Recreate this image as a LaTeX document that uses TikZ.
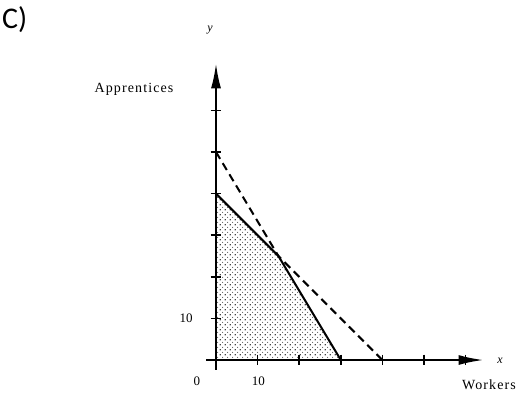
\documentclass[tikz,border=0pt]{standalone}
\usepackage{fontspec}
\setmainfont{Liberation Serif}
\newfontfamily\labelfont{Carlito}
\usetikzlibrary{patterns,arrows.meta}
\pgfdeclarepatternformonly{regiondots}{\pgfqpoint{0pt}{0pt}}{\pgfqpoint{5pt}{5pt}}{\pgfqpoint{5pt}{5pt}}{%
  \pgfpathcircle{\pgfqpoint{1.25pt}{1.25pt}}{0.75pt}%
  \pgfpathcircle{\pgfqpoint{3.75pt}{3.75pt}}{0.5pt}%
  \pgfusepath{fill}}
\tikzset{
  axis/.style={line width=2bp, -{Latex[length=25bp,width=10bp]}},
  tickmark/.style={line width=1.6bp},
  bound/.style={line width=2bp, line join=round},
  extline/.style={line width=2bp, dash pattern=on 8bp off 5bp},
  lbl/.style={font=\fontsize{14bp}{16bp}\selectfont\addfontfeature{LetterSpace=8}, inner sep=0pt},
  num/.style={font=\fontsize{13bp}{15bp}\selectfont, inner sep=0pt},
}
\begin{document}
\begin{tikzpicture}[x=1bp,y=-1bp]
\useasboundingbox[fill=white] (0,0) rectangle (522,400);
\node[font=\labelfont\fontsize{30bp}{32bp}\selectfont, inner sep=0pt, anchor=north west] (title) at (2,6) {C)};
\begin{scope}[shift={(216,360)}, x=4.16bp, y=4.16bp]
  \coordinate (O) at (0,0);
  \coordinate (A) at (0,40);
  \coordinate (K) at (15,25);
  \coordinate (B) at (30,0);
  \coordinate (C) at (0,50);
  \coordinate (D) at (40,0);
  \coordinate (xs) at (-2.3,0);
  \coordinate (xe) at (64.3,0);
  \coordinate (ys) at (0,-2.4);
  \coordinate (ye) at (0,71.3);
  \fill[pattern=regiondots] (O) -- (A) -- (K) -- (B) -- cycle;
  \draw[extline] (C) -- (K) -- (D);
  \draw[bound] (A) -- (K) -- (B);
  \draw[axis] (xs) -- (xe);
  \draw[axis] (ys) -- (ye);
  \foreach \i in {10,20,...,60} {
    \draw[tickmark] (\i,0) ++(0,1.3) -- ++(0,-2.6);
    \draw[tickmark] (0,\i) ++(-1.3,0) -- ++(2.6,0);
  }
  \node[num] (y10) at (-7.2,10) {10};
  \node[num] (x0) at (-4.6,-5.1) {0};
  \node[num] (x10) at (10.2,-5.1) {10};
\end{scope}
\node[font=\fontsize{12bp}{14bp}\selectfont\itshape, inner sep=0pt] (ylab) at (210,30) {y};
\node[font=\fontsize{12bp}{14bp}\selectfont\itshape, inner sep=0pt] (xlab) at (500,361) {x};
\node[lbl] (appr) at (134,89) {Apprentices};
\node[lbl] (work) at (489,385) {Workers};
\end{tikzpicture}
\end{document}
